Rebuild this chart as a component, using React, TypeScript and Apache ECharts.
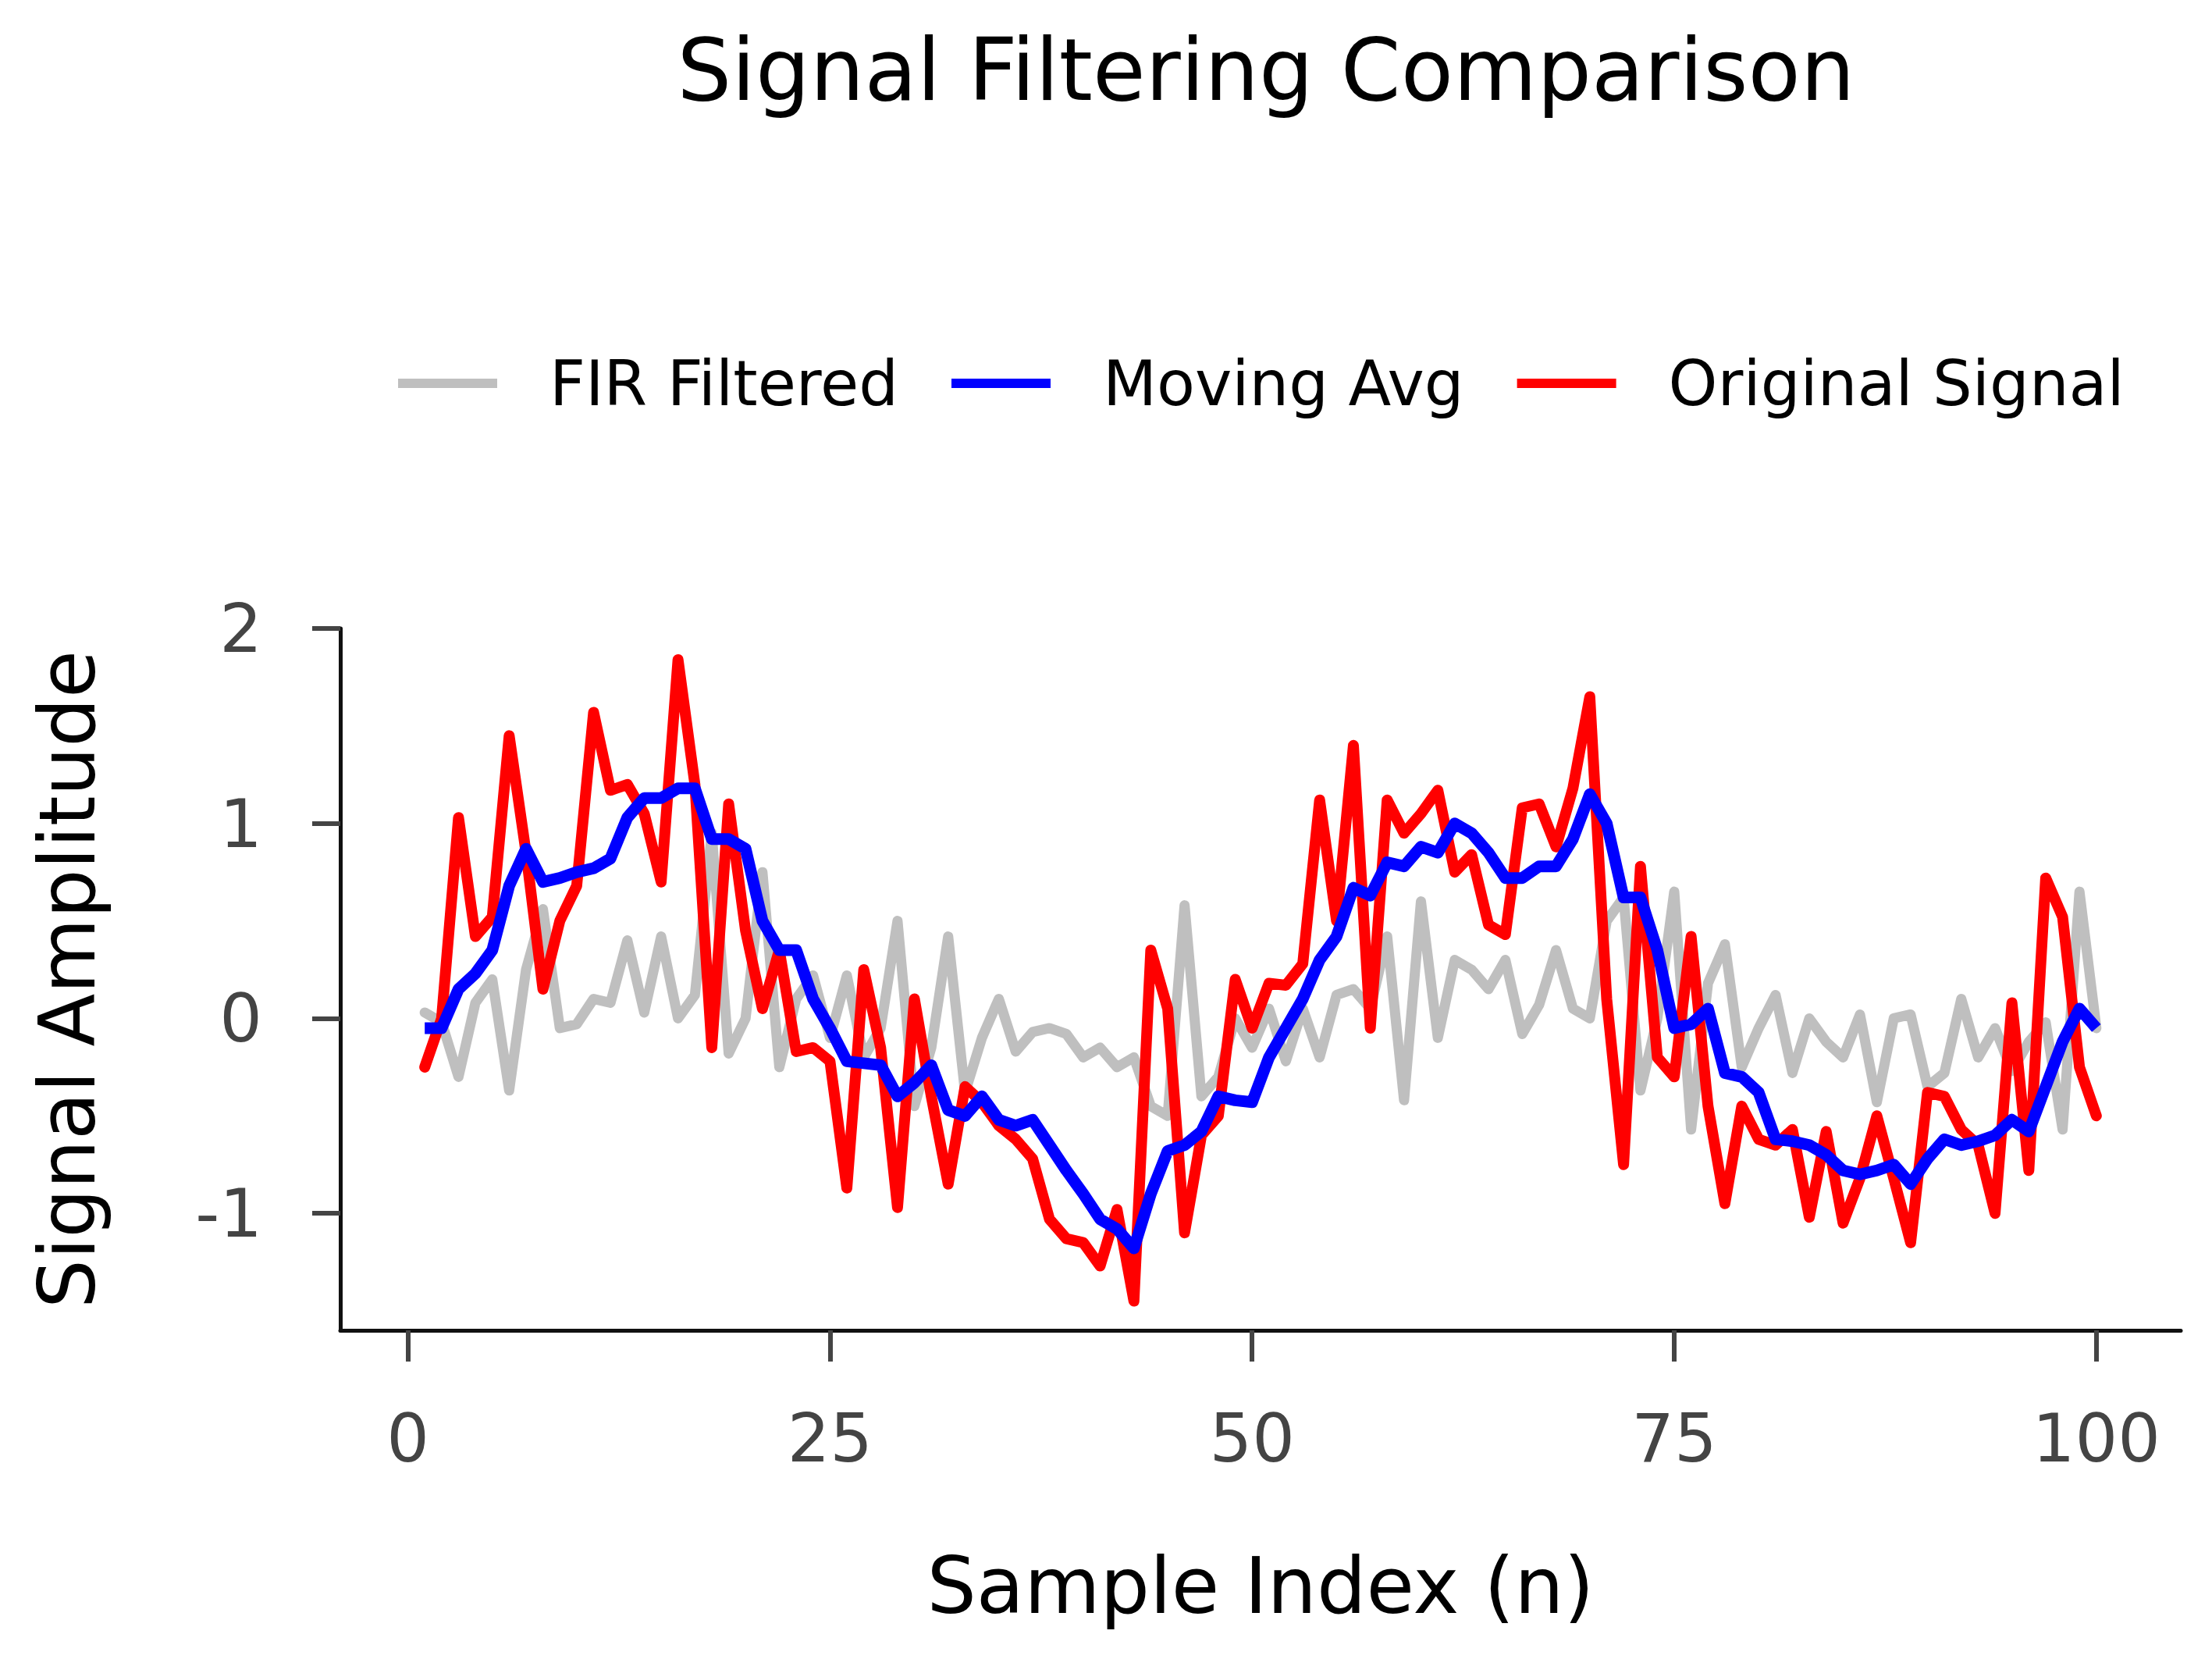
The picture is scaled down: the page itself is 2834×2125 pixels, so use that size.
import { useEffect, useRef } from 'react';
import * as echarts from 'echarts';

const sampleIndex: number[] = Array.from({ length: 100 }, (_, i) => i + 1);

const originalSignal: number[] = [
  -0.25, 0.0, 1.03, 0.42, 0.52, 1.45, 0.85, 0.15, 0.5, 0.68,
  1.57, 1.17, 1.2, 1.05, 0.7, 1.84, 1.2, -0.15, 1.1, 0.45,
  0.05, 0.35, -0.17, -0.15, -0.22, -0.87, 0.25, -0.15, -0.97, 0.1,
  -0.4, -0.85, -0.35, -0.43, -0.55, -0.62, -0.72, -1.03, -1.13, -1.15,
  -1.27, -0.98, -1.45, 0.35, 0.05, -1.1, -0.6, -0.5, 0.2, -0.05,
  0.18, 0.17, 0.28, 1.12, 0.5, 1.4, -0.05, 1.12, 0.95, 1.05,
  1.17, 0.75, 0.84, 0.48, 0.43, 1.08, 1.1, 0.88, 1.18, 1.65,
  0.1, -0.75, 0.78, -0.2, -0.3, 0.42, -0.45, -0.95, -0.45, -0.62,
  -0.65, -0.57, -1.02, -0.58, -1.05, -0.82, -0.5, -0.82, -1.15, -0.38,
  -0.4, -0.57, -0.65, -1.0, 0.08, -0.78, 0.72, 0.52, -0.25, -0.5,
];

const movingAvg: number[] = [
  -0.05, -0.05, 0.15, 0.23, 0.35, 0.68, 0.87, 0.7, 0.72, 0.75,
  0.77, 0.82, 1.03, 1.13, 1.13, 1.18, 1.18, 0.92, 0.92, 0.87,
  0.5, 0.35, 0.35, 0.1, -0.05, -0.22, -0.23, -0.24, -0.4, -0.33,
  -0.24, -0.47, -0.5, -0.4, -0.52, -0.55, -0.52, -0.65, -0.78, -0.9,
  -1.03, -1.08, -1.18, -0.9, -0.68, -0.65, -0.58, -0.4, -0.42, -0.43,
  -0.2, -0.05, 0.1, 0.3, 0.42, 0.67, 0.63, 0.8, 0.78, 0.88,
  0.85, 1.0, 0.95, 0.85, 0.72, 0.72, 0.78, 0.78, 0.92, 1.15,
  1.0, 0.62, 0.62, 0.35, -0.05, -0.03, 0.05, -0.28, -0.3, -0.38,
  -0.62, -0.63, -0.65, -0.7, -0.78, -0.8, -0.78, -0.75, -0.85, -0.72,
  -0.62, -0.65, -0.63, -0.6, -0.52, -0.58, -0.35, -0.12, 0.05, -0.05,
];

const firFiltered: number[] = [
  0.03, -0.02, -0.3, 0.08, 0.2, -0.37, 0.25, 0.56, -0.05, -0.03,
  0.1, 0.08, 0.4, 0.03, 0.42, 0.0, 0.12, 0.95, -0.18, 0.0,
  0.75, -0.25, 0.1, 0.22, -0.1, 0.22, -0.2, -0.05, 0.5, -0.45,
  -0.15, 0.42, -0.38, -0.1, 0.1, -0.17, -0.07, -0.05, -0.08, -0.2,
  -0.15, -0.25, -0.2, -0.45, -0.5, 0.58, -0.4, -0.3, 0.0, -0.15,
  0.05, -0.22, 0.05, -0.2, 0.12, 0.15, 0.05, 0.42, -0.42, 0.6,
  -0.1, 0.3, 0.25, 0.15, 0.3, -0.08, 0.07, 0.35, 0.05, 0.0,
  0.5, 0.62, -0.37, 0.0, 0.65, -0.57, 0.18, 0.38, -0.25, -0.05,
  0.12, -0.28, 0.0, -0.12, -0.2, 0.02, -0.43, 0.0, 0.02, -0.35,
  -0.28, 0.1, -0.2, -0.05, -0.27, -0.12, -0.02, -0.57, 0.65, -0.05,
];

const xTicks: number[] = [0, 25, 50, 75, 100];
const yTicks: number[] = [-1, 0, 1, 2];

const FONT = "'DejaVu Sans', sans-serif";

const pairs = (ys: number[]) => ys.map((y, i) => [sampleIndex[i], y]);

export default function App() {
  const chartRef = useRef<HTMLDivElement>(null);

  useEffect(() => {
    document.body.style.margin = '0';
    if (!chartRef.current) return;
    const chart = echarts.init(chartRef.current, undefined, { renderer: 'svg' });

    const option: any = {
      animation: false,
      backgroundColor: '#ffffff',
      textStyle: { fontFamily: FONT },
      title: {
        text: 'Signal Filtering Comparison',
        left: 1617,
        top: 30,
        textAlign: 'center',
        textStyle: { fontFamily: FONT, fontSize: 110, fontWeight: 'normal', color: '#000' },
      },
      legend: {
        left: 505,
        top: 446,
        itemWidth: 127,
        itemHeight: 12,
        itemGap: 68,
        icon: 'rect',
        data: ['FIR Filtered', 'Moving Avg', 'Original Signal'],
        textStyle: { fontFamily: FONT, fontSize: 80, color: '#000', padding: [0, 0, 0, 62] },
      },
      grid: { left: 436, right: 40, top: 805, bottom: 421 },
      xAxis: {
        type: 'value',
        min: -4,
        max: 105,
        name: 'Sample Index (n)',
        nameLocation: 'middle',
        nameGap: 277,
        nameTextStyle: { fontFamily: FONT, fontSize: 100, color: '#000' },
        axisLine: { onZero: false, lineStyle: { color: '#111', width: 5 } },
        axisTick: { customValues: xTicks, length: 40, lineStyle: { color: '#444', width: 6 } },
        axisLabel: { customValues: xTicks, margin: 95, fontFamily: FONT, fontSize: 86, color: '#444' },
        splitLine: { show: false },
      },
      yAxis: {
        type: 'value',
        min: -1.6,
        max: 2,
        name: 'Signal Amplitude',
        nameLocation: 'middle',
        nameGap: 300,
        nameTextStyle: { fontFamily: FONT, fontSize: 99, color: '#000' },
        axisLine: { show: true, onZero: false, lineStyle: { color: '#111', width: 5 } },
        axisTick: { customValues: yTicks, length: 36, lineStyle: { color: '#444', width: 6 } },
        axisLabel: { customValues: yTicks, margin: 100, fontFamily: FONT, fontSize: 86, color: '#444' },
        splitLine: { show: false },
      },
      series: [
        {
          name: 'FIR Filtered',
          type: 'line',
          data: pairs(firFiltered),
          showSymbol: false,
          z: 1,
          itemStyle: { color: '#bfbfbf' },
          lineStyle: { color: '#bfbfbf', width: 13, join: 'round', cap: 'round' },
        },
        {
          name: 'Moving Avg',
          type: 'line',
          data: pairs(movingAvg),
          showSymbol: false,
          z: 3,
          itemStyle: { color: '#0000ff' },
          lineStyle: { color: '#0000ff', width: 15, join: 'round' },
        },
        {
          name: 'Original Signal',
          type: 'line',
          data: pairs(originalSignal),
          showSymbol: false,
          z: 2,
          itemStyle: { color: '#ff0000' },
          lineStyle: { color: '#ff0000', width: 14, join: 'round', cap: 'round' },
        },
      ],
    };

    chart.setOption(option);
    return () => chart.dispose();
  }, []);

  return <div ref={chartRef} style={{ width: 2834, height: 2125 }} />;
}
